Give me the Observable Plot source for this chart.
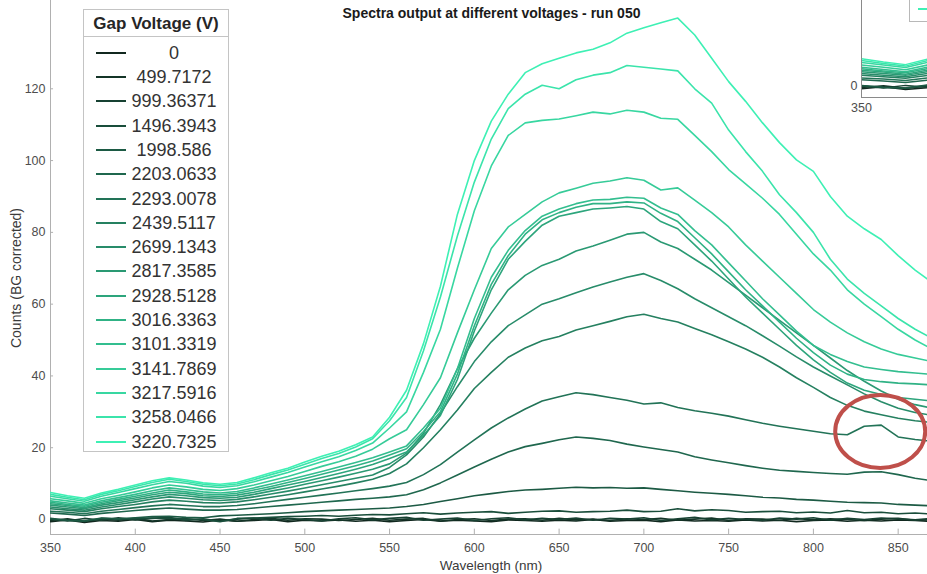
<!DOCTYPE html>
<html><head><meta charset="utf-8">
<script src="https://cdn.jsdelivr.net/npm/d3@7"></script>
<script src="https://cdn.jsdelivr.net/npm/@observablehq/plot@0.6"></script>
<style>
html,body{margin:0;padding:0;background:#fff;overflow:hidden;}
#wrap{position:relative;width:927px;height:574px;overflow:hidden;font-family:"Liberation Sans",Arial,Helvetica,sans-serif;}
#main{position:absolute;left:0;top:0;}
#inset{position:absolute;left:800px;top:0;}
#ylab{position:absolute;left:16px;top:278px;transform:translate(-50%,-50%) rotate(-90deg);white-space:nowrap;font-size:14px;color:#3a3a3a;}
#xlab{position:absolute;left:491px;top:566px;transform:translate(-50%,-50%);white-space:nowrap;font-size:13.5px;line-height:14px;color:#3a3a3a;}
#legend{position:absolute;left:83px;top:9px;width:146px;height:443px;border:1px solid #c4c4c4;background:#fff;box-sizing:border-box;}
#legend .ttl{position:absolute;left:0;top:0;width:100%;height:27px;border-bottom:1px solid #c4c4c4;box-sizing:border-box;text-align:center;font-weight:bold;font-size:17px;line-height:27px;color:#262626;}
#legend .row{position:absolute;left:0;width:100%;height:24px;}
#legend .sw{position:absolute;left:12px;top:11px;width:30px;height:2px;}
#legend .lb{position:absolute;left:40px;width:100px;top:0;text-align:center;font-size:18px;line-height:24px;color:#333;}
#insetLegend{position:absolute;left:909px;top:-1px;width:40px;height:21px;border:1px solid #b8b8b8;background:#fff;}
#insetLegend div{position:absolute;left:8px;top:8px;width:30px;height:2px;}
</style>
</head><body>
<div id="wrap"></div>
<script>
const wavelengths = [350,360,370,380,390,400,410,420,430,440,450,460,470,480,490,500,510,520,530,540,550,560,570,580,590,600,610,620,630,640,650,660,670,680,690,700,710,720,730,740,750,760,770,780,790,800,810,820,830,840,850,860,870];

const voltageLabels = ["0","499.7172","999.36371","1496.3943","1998.586","2203.0633","2293.0078","2439.5117","2699.1343","2817.3585","2928.5128","3016.3363","3101.3319","3141.7869","3217.5916","3258.0466","3220.7325"];

const counts_0 = [-0.6,-0.1,-0.8,-0.3,-0.5,0.0,-0.6,-0.2,-0.4,-0.7,-0.1,-0.5,-0.3,0.0,-0.6,-0.2,-0.4,-0.1,-0.5,-0.2,-0.6,-0.3,0.0,-0.5,-0.2,-0.4,-0.6,-0.1,-0.3,-0.5,-0.2,-0.4,0.0,-0.5,-0.3,-0.2,-0.6,-0.1,-0.4,-0.3,-0.5,-0.1,-0.4,-0.2,-0.6,-0.3,-0.1,-0.5,-0.2,-0.4,-0.1,-0.3,-0.5];
const counts_499 = [-0.3,0.2,-0.5,0.1,-0.2,0.3,-0.4,0.0,0.2,-0.3,0.1,-0.5,0.0,0.3,-0.2,0.2,0.1,-0.3,0.0,0.3,-0.2,0.1,0.3,-0.4,0.0,0.2,-0.3,0.1,0.2,-0.2,0.3,-0.1,0.1,-0.3,0.2,0.0,0.3,-0.2,0.1,0.4,-0.3,0.2,0.1,-0.2,0.3,-0.1,0.2,0.0,-0.3,0.1,0.3,-0.2,0.0];
const counts_999 = [0.1,-0.4,0.3,-0.2,0.5,-0.1,0.3,0.6,-0.3,0.2,-0.5,0.1,0.4,-0.2,0.3,0.0,-0.4,0.2,0.5,-0.1,0.3,0.6,-0.2,0.1,0.4,-0.3,0.2,0.5,-0.1,0.3,0.0,0.4,-0.2,0.3,0.1,0.5,-0.3,0.2,0.6,-0.1,0.3,0.0,-0.2,0.4,0.1,0.5,-0.2,0.3,0.0,0.4,0.2,-0.1,0.3];
const counts_1496 = [0.2,-0.3,-0.5,0.3,0.1,0.2,0.4,0.3,0.1,0.0,-0.6,0.3,0.4,0.6,0.8,0.9,1.1,0.9,1.2,1.4,1.3,1.6,1.9,1.5,1.8,2.0,2.2,1.7,2.0,2.3,2.4,2.0,2.2,2.3,2.6,2.2,2.3,3.0,2.4,2.7,2.5,2.0,2.2,2.3,1.9,2.1,1.8,2.5,1.9,2.0,1.6,1.8,1.5];
const counts_1998 = [0.3,-0.2,-0.4,0.4,0.2,0.5,0.8,0.9,0.6,0.5,1.0,1.2,1.4,1.6,1.9,2.2,2.4,2.6,2.8,3.0,3.2,3.6,4.2,5.0,5.8,6.6,7.2,7.8,8.2,8.4,8.7,9.0,8.8,8.9,8.7,8.8,8.4,8.0,7.6,7.3,7.0,6.6,6.2,6.0,5.6,5.4,5.1,4.8,4.7,4.6,4.2,4.0,3.8];
const counts_2203 = [1.8,1.5,1.1,1.7,2.1,2.5,2.9,3.2,2.9,2.6,2.6,2.8,3.2,3.6,4.0,4.4,4.8,5.2,5.6,5.9,6.3,6.9,8.3,10.2,12.4,14.6,16.8,18.8,20.3,21.2,22.2,23,22.6,22,21,20.2,19.5,18.8,17.5,16.6,15.8,15,14.3,13.7,13.4,13.1,12.8,12.6,13.2,13.3,12.5,11.5,10.8];
const counts_2293 = [2.3,2.0,1.6,2.3,2.8,3.3,3.8,4.2,3.9,3.6,3.6,3.9,4.4,5.0,5.6,6.2,6.8,7.4,8.0,8.6,9.3,10.3,12.5,15.3,18.8,22.2,25.5,28.3,30.8,33,34.2,35.3,34.8,34,33.2,32.2,32.5,31.2,30.3,29.6,28.8,27.8,26.8,26,25.3,24.6,23.9,23.6,26.0,26.3,23.0,22.3,21.8];
const counts_2439 = [3.0,2.6,2.2,3.0,3.6,4.2,4.9,5.4,5.1,4.7,4.6,4.9,5.5,6.2,6.9,7.7,8.5,9.3,10.2,11.2,12.8,15.5,20,25,30.5,36.5,41,45.2,47.8,49.8,51,52.8,54,55.2,56.5,57.2,56,55,53.2,51.5,49.5,47.5,45.2,42.5,39.5,36.8,34,31.8,30.2,29.2,28.2,27.5,27];
const counts_2699 = [3.5,3.0,2.6,3.5,4.2,4.9,5.7,6.3,5.9,5.5,5.3,5.6,6.3,7.1,7.9,8.8,9.7,10.6,11.5,12.4,14.5,18,23,29.5,37,44,49.5,54,57,60,61.5,63.2,64.8,66.2,67.5,68.5,66.6,64.3,61.5,59,56.5,54,51.2,48.3,45.3,42.5,40,37.5,35,32.8,31,29.8,29];
const counts_2817 = [4.0,3.5,3.0,4.0,4.7,5.5,6.3,7.0,6.6,6.1,5.9,6.2,7.0,7.9,8.8,9.8,10.8,11.8,12.9,14.0,15.5,18.5,24,32,42,50.5,57.5,64,68,70.8,72.5,74.8,76.2,77.8,79.5,80,77.3,75.5,72.5,69.5,66,62.5,59,55.5,52,48.5,45,41.5,38.5,35.8,33.5,32,31];
const counts_2928 = [4.4,3.9,3.3,4.4,5.2,6.0,6.9,7.6,7.2,6.6,6.4,6.8,7.6,8.6,9.6,10.6,11.7,12.8,14.0,15.3,17.0,18.8,23.5,29,39,52.5,64,72.5,77.5,82,84.5,85.5,86.5,86.8,87.2,86.5,83,81,76.5,72,67,62,57.5,53,48.5,44.5,41,38,36,34.8,34,33.5,33];
const counts_3016 = [4.8,4.2,3.7,4.8,5.6,6.5,7.4,8.2,7.7,7.1,6.9,7.3,8.2,9.2,10.3,11.4,12.6,13.8,15.0,16.3,18.0,19.7,24.5,30,40.5,54,65.5,73.5,79.5,83.5,85.5,87,88,88,88.5,88.2,85.3,83,78.5,74,69,64,59.5,55,50.5,46.5,43,40.5,39,38.4,38,37.8,37.5];
const counts_3101 = [5.2,4.6,4.0,5.2,6.1,7.0,8.0,8.8,8.3,7.7,7.4,7.8,8.8,9.9,11.0,12.2,13.4,14.6,15.9,17.2,18.8,20.5,25.5,31,42,56,67.5,75,80.5,84.5,86.5,88,89,89.2,89.8,89.5,86.8,85,80.5,76.5,71.5,66.5,61.5,57,52.5,48.5,46,44,42.5,41.8,41.2,40.8,40.4];
const counts_3141 = [5.8,5.2,4.5,5.8,6.7,7.7,8.8,9.6,9.1,8.4,8.1,8.6,9.6,10.8,12.0,13.4,14.8,16.1,17.6,19.6,22.5,25,32,39.5,52,64,75.5,81.5,85,88.5,91,92.3,93.7,94.3,95.2,94.5,91.8,92.4,89,85.5,81.5,76.5,72,67.5,63,58.5,55,52,49.5,47.5,46,45,44];
const counts_3217 = [6.5,5.8,5.1,6.5,7.5,8.6,9.7,10.6,10.1,9.3,8.9,9.4,10.5,11.8,13.1,14.6,16.1,17.5,19.2,21.3,25.5,30,41,53,70,86,98.5,107,110.5,111.2,111.6,112.5,113.5,113,114,113.5,111.8,111.5,107,102.5,97.5,93.5,89.5,85,79.5,74,69.5,64,60,56.5,53,50,47.5];
const counts_3258 = [7.0,6.2,5.5,7.0,8.0,9.2,10.3,11.2,10.6,9.8,9.4,9.9,11.1,12.5,13.8,15.4,17.0,18.4,20.2,22.5,27.5,34,47,62,79,94,106,114.5,118.5,121,120,122.5,123.8,124.5,126.5,126,125.5,125,120,116,108.5,102.5,97,90.5,85.5,80,72.5,67,63,59.5,56,53,50.5];
const counts_3220 = [7.5,6.6,5.9,7.4,8.4,9.6,10.8,11.6,11.0,10.2,9.8,10.3,11.6,13.0,14.3,16.0,17.6,19.0,20.8,23.0,28.5,36,49,65,85,100,111,118.5,124.5,127,128.5,130,131,132.8,135.5,137,138.4,139.7,135,128.5,122,116.5,110.5,105,100.2,97,90,84.5,81,78,73.5,69.5,66];

const xTicks = [350,400,450,500,550,600,650,700,750,800,850];
const yTicks = [0,20,40,60,80,100,120];
const highlight = [{nm: 839.7, counts: 24.4}];

const titleText = "Spectra output at different voltages - run 050";
const xLabel = "Wavelength (nm)";
const yLabel = "Counts (BG corrected)";
const legendTitle = "Gap Voltage (V)";

const series = [counts_0,counts_499,counts_999,counts_1496,counts_1998,counts_2203,counts_2293,counts_2439,counts_2699,counts_2817,counts_2928,counts_3016,counts_3101,counts_3141,counts_3217,counts_3258,counts_3220];
const rows = series.flatMap((vals, k) => vals.map((v, j) => ({nm: wavelengths[j], counts: v, k})));
const colors = d3.quantize(d3.interpolateRgb("#11281f", "#3ef0b4"), series.length);

const font = '"Liberation Sans", Arial, Helvetica, sans-serif';
const yDom = [-4.18, 144.6];
const xDom = [350, 867.3];

const main = Plot.plot({
  width: 927, height: 574,
  marginLeft: 50, marginRight: 0, marginTop: 0, marginBottom: 40,
  x: {domain: xDom},
  y: {domain: yDom},
  color: {type: "ordinal", domain: d3.range(series.length), range: colors},
  style: {fontFamily: font, background: "transparent", overflow: "visible"},
  marks: [
    Plot.ruleX([xDom[0]], {stroke: "#b0b0b0", strokeWidth: 1}),
    Plot.ruleY([yDom[0]], {stroke: "#b0b0b0", strokeWidth: 1}),
    Plot.ruleX(xTicks, {y1: yDom[0], y2: yDom[0] + 1.5, stroke: "#b0b0b0"}),
    Plot.ruleY(yTicks, {x1: xDom[0], x2: xDom[0] + 1.8, stroke: "#b0b0b0"}),
    Plot.line(rows, {x: "nm", y: "counts", z: "k", stroke: "k", strokeWidth: 1.6, clip: true, curve: "linear"}),
    Plot.axisX({ticks: xTicks, tickSize: 0, tickPadding: 9, fontSize: 12.5, color: "#4d4d4d", label: null, tickFormat: d => String(d)}),
    Plot.axisY({ticks: yTicks, tickSize: 0, tickPadding: 5, fontSize: 12.5, color: "#4d4d4d", label: null}),
    Plot.text([titleText], {frameAnchor: "top", dx: 2.5, dy: 8, fontSize: 14, fontWeight: "bold", fill: "#1a1a1a", text: d => d})
  ]
});
main.id = "main";

// red ellipse annotation placed through the plot's scales
const sx = main.scale("x"), sy = main.scale("y");
d3.select(main).selectAll("ellipse.hl").data(highlight).join("ellipse")
  .attr("class", "hl")
  .attr("cx", d => sx.apply(d.nm)).attr("cy", d => sy.apply(d.counts))
  .attr("rx", 45).attr("ry", 36.5)
  .attr("fill", "none").attr("stroke", "#bf4f4a").attr("stroke-width", 4);

const wrap = document.getElementById("wrap");
wrap.appendChild(main);

const yl = document.createElement("div");
yl.id = "ylab"; yl.textContent = yLabel;
wrap.appendChild(yl);
const xl = document.createElement("div");
xl.id = "xlab"; xl.textContent = xLabel;
wrap.appendChild(xl);

// inset
const inset = Plot.plot({
  width: 300, height: 118,
  marginLeft: 61, marginRight: 0, marginTop: 0, marginBottom: 21,
  x: {domain: [350, 458.6]},
  y: {domain: [-2.97, 23.2]},
  color: {type: "ordinal", domain: d3.range(series.length), range: colors},
  style: {fontFamily: font, background: "#fff"},
  marks: [
    Plot.line(rows, {x: "nm", y: "counts", z: "k", stroke: "k", strokeWidth: 1.5, clip: true}),
    Plot.ruleX([350], {stroke: "#8a8a8a"}),
    Plot.ruleY([-2.97], {stroke: "#8a8a8a"}),
    Plot.axisX({ticks: [350], tickSize: 0, tickPadding: 6, fontSize: 12.5, color: "#4d4d4d", label: null}),
    Plot.axisY({ticks: [0], tickSize: 0, tickPadding: 4, fontSize: 12.5, color: "#4d4d4d", label: null})
  ]
});
inset.id = "inset";
wrap.appendChild(inset);

const il = document.createElement("div");
il.id = "insetLegend";
const ils = document.createElement("div");
ils.style.background = colors[colors.length - 1];
il.appendChild(ils);
wrap.appendChild(il);

// legend
const lg = document.createElement("div");
lg.id = "legend";
const t = document.createElement("div");
t.className = "ttl"; t.textContent = legendTitle;
lg.appendChild(t);
voltageLabels.forEach((lab, i) => {
  const r = document.createElement("div");
  r.className = "row";
  r.style.top = (30.7 + i * 24.3) + "px";
  const sw = document.createElement("div");
  sw.className = "sw"; sw.style.background = colors[i];
  const lb = document.createElement("div");
  lb.className = "lb"; lb.textContent = lab;
  r.appendChild(sw); r.appendChild(lb);
  lg.appendChild(r);
});
wrap.appendChild(lg);
</script>
</body></html>
